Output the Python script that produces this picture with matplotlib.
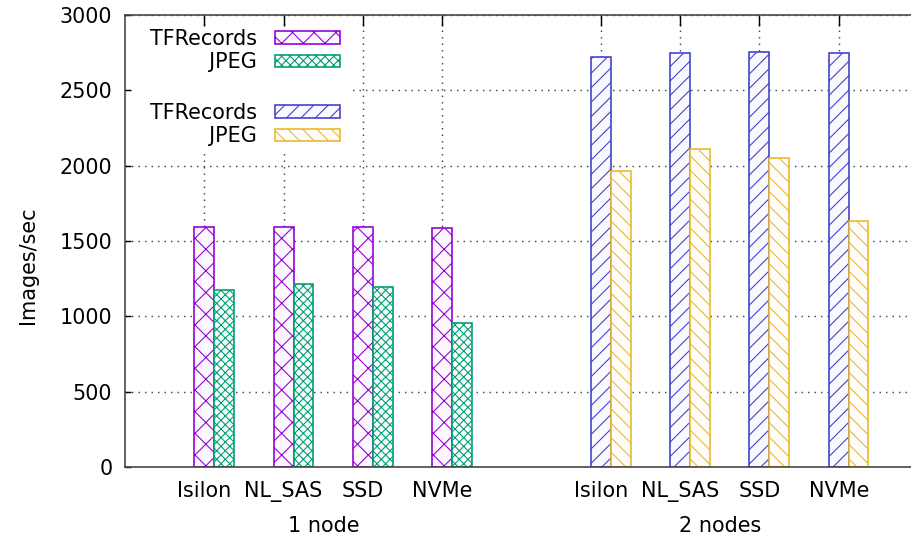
import numpy as np
import matplotlib
matplotlib.use("Agg")
import matplotlib.pyplot as plt
from matplotlib.patches import Rectangle, Patch
from matplotlib.colors import to_rgb

# Data
storage = ["Isilon", "NL_SAS", "SSD", "NVMe"]
groups = ["1 node", "2 nodes"]
tfrec_1node = [1590, 1592, 1590, 1588]
jpeg_1node = [1175, 1217, 1193, 956]
tfrec_2nodes = [2723, 2748, 2754, 2748]
jpeg_2nodes = [1967, 2108, 2051, 1631]

DPI = 130
W, H = 911, 544

plt.rcParams['font.family'] = ['DejaVu Sans']
plt.rcParams['font.size'] = 11.5
plt.rcParams['hatch.linewidth'] = 0.6

fig = plt.figure(figsize=(W / DPI, H / DPI), dpi=DPI)
ax = fig.add_axes([125 / W, (H - 467) / H, (918 - 125) / W, (467 - 15) / H])
ax.set_axisbelow(True)


def tint(c, amount=0.025):
    r, g, b = to_rgb(c)
    return (1 - amount * (1 - r), 1 - amount * (1 - g), 1 - amount * (1 - b))


series = [
    (np.arange(4), tfrec_1node, 0.0, "#9400d3", "xx", "TFRecords"),
    (np.arange(4), jpeg_1node, 0.25, "#009e73", "xxxxx", "JPEG"),
    (np.arange(4) + 5, tfrec_2nodes, 0.0, "#4040cc", "///", "TFRecords"),
    (np.arange(4) + 5, jpeg_2nodes, 0.25, "#e8b830", "\\\\\\", "JPEG"),
]
handles = []
for pos, vals, off, col, hatch, lab in series:
    ax.bar(pos + off, vals, width=0.25, facecolor=tint(col), edgecolor=col,
           hatch=hatch, linewidth=0.9, zorder=1)
    handles.append(Patch(facecolor=tint(col), edgecolor=col, hatch=hatch,
                         linewidth=0.9, label=lab))

ax.set_xlim(-1, 9)
ax.set_ylim(0, 3000)
ax.set_yticks(np.arange(0, 3001, 500))
xpos = list(range(4)) + list(range(5, 9))
ax.set_xticks(xpos)
ax.set_xticklabels(storage + storage)

ax.tick_params(axis='x', direction='in', length=6, width=0.8, top=True, pad=8)
ax.tick_params(axis='y', direction='in', length=3.5, width=0.8, right=True, pad=7)
ax.grid(True, color='#444444', linestyle=(0, (1, 3.5)), linewidth=0.8)
for s in ax.spines.values():
    s.set_color('#444444')
    s.set_linewidth(0.9)

# group labels
for gx, g in zip([1.5, 6.5], groups):
    ax.text(gx, -59 / 452, g, transform=ax.get_xaxis_transform(),
            ha='center', va='center')

fig.text(28 / W, 1 - 265 / H, "Images/sec", rotation=90, ha='center', va='center')

# opaque key background
ax.add_patch(Rectangle(((132 - 125) / 793, (467 - 152) / 452), (352 - 132) / 793,
                       (152 - 27) / 452, transform=ax.transAxes,
                       facecolor='white', edgecolor='none', zorder=1.5))

leg_kw = dict(loc='upper right', markerfirst=False, frameon=False, borderpad=0,
              handlelength=3.15, handleheight=0.55, handletextpad=0.85,
              labelspacing=0.15, borderaxespad=0)
leg1 = ax.legend(handles=handles[:2], bbox_to_anchor=((340 - 125) / 793, (467 - 29) / 452),
                 **leg_kw)
ax.add_artist(leg1)
leg2 = ax.legend(handles=handles[2:], bbox_to_anchor=((340 - 125) / 793, (467 - 103) / 452),
                 **leg_kw)

fig.savefig("out.png", dpi=DPI)
